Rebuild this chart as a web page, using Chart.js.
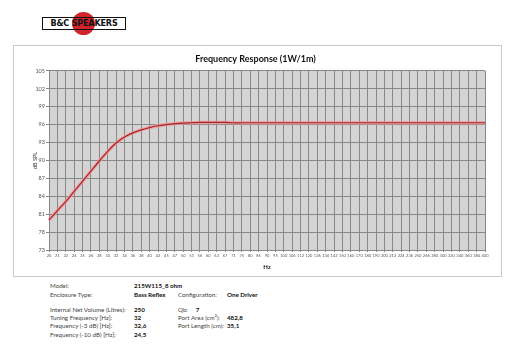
<!DOCTYPE html>
<html>
<head>
<meta charset="utf-8">
<script src="https://cdn.jsdelivr.net/npm/chart.js@4"></script>
<style>
  body { margin: 0; width: 515px; height: 350px; background: #fff; font-family: Lato, 'Noto Sans', sans-serif; position: relative; overflow: hidden; }
  .logo { position: absolute; left: 42px; top: 17px; width: 84px; height: 13px; }
  .logo .dot { position: absolute; left: 30px; top: -5px; width: 23px; height: 23px; border-radius: 50%; background: #d2242a; }
  .logo .box { position: absolute; left: 0; top: 0; width: 82px; height: 11px; border: 1px solid #111; background: transparent; font: bold 9px 'Liberation Sans Narrow', 'DejaVu Sans Condensed', sans-serif; line-height: 11px; text-align: center; letter-spacing: -0.2px; color: #111; }
  .panel { position: absolute; left: 13px; top: 45px; width: 487px; height: 230px; border: 1px solid #c8c8c8; }
  .panel canvas { position: absolute; left: 0; top: 0; }
  .info { position: absolute; font-size: 6.2px; color: #444; white-space: nowrap; }
  .info b { color: #111; }
</style>
</head>
<body>
<div class="logo"><div class="dot"></div><div class="box">B&amp;C SPEAKERS</div></div>
<div class="panel"><canvas id="frChart" width="487" height="230"></canvas></div>

<div class="info" style="left:50px;top:282px">Model:</div>
<div class="info" style="left:134px;top:282px"><b>215W115_8 ohm</b></div>
<div class="info" style="left:50px;top:291px">Enclosure Type:</div>
<div class="info" style="left:134px;top:291px"><b>Bass Reflex</b></div>
<div class="info" style="left:178px;top:291px">Configuration:</div>
<div class="info" style="left:227px;top:291px"><b>One Driver</b></div>
<div class="info" style="left:50px;top:306px">Internal Net Volume (Litres):</div>
<div class="info" style="left:134px;top:306px"><b>250</b></div>
<div class="info" style="left:178px;top:306px">Qb: &nbsp;&nbsp;&nbsp;&nbsp;<b>7</b></div>
<div class="info" style="left:50px;top:314px">Tuning Frequency [Hz]:</div>
<div class="info" style="left:134px;top:314px"><b>32</b></div>
<div class="info" style="left:178px;top:314px">Port Area (cm²):</div>
<div class="info" style="left:227px;top:314px"><b>482,8</b></div>
<div class="info" style="left:50px;top:322px">Frequency (-3 dB) [Hz]:</div>
<div class="info" style="left:134px;top:322px"><b>32,6</b></div>
<div class="info" style="left:178px;top:322px">Port Length (cm):</div>
<div class="info" style="left:227px;top:322px"><b>35,1</b></div>
<div class="info" style="left:50px;top:331px">Frequency (-10 dB) [Hz]:</div>
<div class="info" style="left:134px;top:331px"><b>24,5</b></div>

<script>
// frequency response, 1/12 octave points
const freqLabels = ['20','21','22','24','25','26','28','30','32','34','36','38','40','42','45','47','50','53','56','60',
  '63','67','71','75','80','85','90','95','100','106','112','120','126','134','142','150','160','170','180','190',
  '200','212','224','236','250','266','280','300','320','340','360','380','400'];
const splValues = [80.0, 81.6, 83.1, 84.8, 86.5, 88.2, 89.9, 91.5, 92.9, 93.9, 94.6, 95.1, 95.5, 95.8, 96.0, 96.15, 96.25, 96.3, 96.35, 96.35,
  96.35, 96.35, 96.3, 96.3, 96.3, 96.3, 96.3, 96.3, 96.3, 96.3, 96.3, 96.3, 96.3, 96.3, 96.3, 96.3, 96.3, 96.3, 96.3, 96.3,
  96.3, 96.3, 96.3, 96.3, 96.3, 96.3, 96.3, 96.3, 96.3, 96.3, 96.3, 96.3, 96.3];
const yTickLabels = ['73','78','81','84','87','90','93','96','99','102','105'];

const plotBg = {
    id: 'plotBg',
    beforeDraw(chart) {
        const a = chart.chartArea;
        const ctx = chart.ctx;
        ctx.save();
        ctx.fillStyle = '#d4d4d4';
        ctx.fillRect(a.left, a.top, a.right - a.left, a.bottom - a.top);
        ctx.restore();
    }
};

const gridColor = '#888';
const tickColor = '#555';

new Chart(document.getElementById('frChart').getContext('2d'), {
    type: 'line',
    data: {
        labels: freqLabels,
        datasets: [
            { data: splValues, borderColor: '#a82228', borderWidth: 1.2, pointRadius: 0, tension: 0.3, order: 1 },
            { data: splValues, borderColor: 'rgba(240,150,150,0.75)', borderWidth: 3.5, pointRadius: 0, tension: 0.3, order: 2 }
        ]
    },
    options: {
        responsive: false,
        animation: false,
        layout: { padding: { left: 12, right: 16, top: 0, bottom: 0 } },
        plugins: {
            legend: { display: false },
            tooltip: { enabled: false },
            title: {
                display: true,
                text: 'Frequency Response (1W/1m)',
                color: '#111',
                font: { family: 'Lato', size: 9, weight: 'bold' },
                padding: { top: 8, bottom: 6 }
            }
        },
        scales: {
            x: {
                offset: false,
                grid: { color: gridColor, lineWidth: 1, tickLength: 2, drawTicks: true },
                border: { color: gridColor },
                ticks: { autoSkip: false, maxRotation: 0, minRotation: 0, color: tickColor, padding: 1, font: { family: 'Lato', size: 4 } },
                title: { display: true, text: 'Hz', color: '#111', font: { family: 'Lato', size: 6, weight: 'bold' }, padding: { top: 2, bottom: 5 } },
                afterFit: s => { s.height = 26; }
            },
            y: {
                min: 75, max: 105,
                grid: { color: gridColor, lineWidth: 1, tickLength: 3 },
                border: { color: gridColor },
                ticks: { stepSize: 3, color: tickColor, padding: 1, font: { family: 'Lato', size: 5.5 },
                    callback: (v, i) => yTickLabels[i] },
                title: { display: true, text: 'dB SPL', color: '#333', font: { family: 'Lato', size: 5.5 }, padding: { top: 6 } },
                afterFit: s => { s.width = 23; }
            }
        }
    },
    plugins: [plotBg]
});
</script>
</body>
</html>
